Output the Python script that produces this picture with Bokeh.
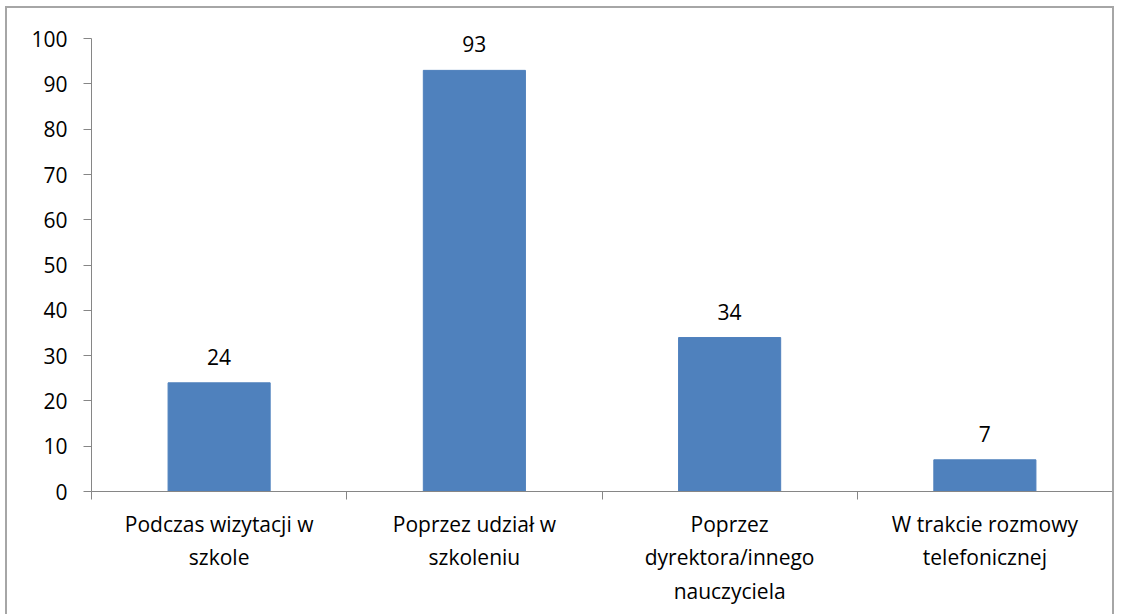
from bokeh.plotting import figure
from bokeh.models import FixedTicker, Range1d, ColumnDataSource, LabelSet
from bokeh.core.properties import value
from bokeh.embed import file_html
from bokeh.resources import INLINE

categories = ["Podczas wizytacji w\nszkole", "Poprzez udział w\nszkoleniu",
              "Poprzez\ndyrektora/innego\nnauczyciela", "W trakcie rozmowy\ntelefonicznej"]
values = [24, 93, 34, 7]
y_ticks = [0, 10, 20, 30, 40, 50, 60, 70, 80, 90, 100]

xs = [i + 0.5 for i in range(len(categories))]
src = ColumnDataSource(dict(x=xs, top=values, lbl=[str(v) for v in values]))

FONT = "Open Sans"
FS = "21px"
p = figure(width=1109, height=608, output_backend="svg", toolbar_location=None,
           x_range=Range1d(0, len(categories)), y_range=Range1d(0, 106),
           min_border_left=84, min_border_right=4, min_border_top=3, min_border_bottom=125)
p.styles = {"border": "2px solid #a6a6a6", "border-bottom": "none",
            "box-sizing": "border-box", "margin": "6px 0 0 5px"}
p.outline_line_color = None
p.grid.visible = False

p.vbar(x="x", top="top", width=0.4, source=src, color="#4F81BD")
p.add_layout(LabelSet(x="x", y="top", text="lbl", source=src, y_offset=18,
                      text_align="center", text_baseline="alphabetic",
                      text_font=value(FONT), text_font_size=value(FS), text_color="black"))

p.xaxis.ticker = FixedTicker(ticks=xs, minor_ticks=list(range(len(categories) + 1)))
p.xaxis.major_label_overrides = {x: c for x, c in zip(xs, categories)}
p.xaxis.major_tick_out = 0
p.xaxis.major_tick_in = 0
p.xaxis.minor_tick_out = 8
p.xaxis.minor_tick_in = 0
p.xaxis.minor_tick_line_color = "#868686"
p.xaxis.axis_line_color = "#868686"
p.xaxis.major_label_standoff = 10
p.xaxis.major_label_text_font = FONT
p.xaxis.major_label_text_font_size = FS
p.xaxis.major_label_text_color = "black"

p.yaxis.ticker = FixedTicker(ticks=y_ticks)
p.yaxis.bounds = (0, 100)
p.yaxis.major_tick_out = 8
p.yaxis.major_tick_in = 0
p.yaxis.minor_tick_line_color = None
p.yaxis.axis_line_color = "#868686"
p.yaxis.major_tick_line_color = "#868686"
p.yaxis.major_label_standoff = 16
p.yaxis.major_label_text_font = FONT
p.yaxis.major_label_text_font_size = FS
p.yaxis.major_label_text_color = "black"

open("out.html", "w").write(file_html(p, INLINE))
